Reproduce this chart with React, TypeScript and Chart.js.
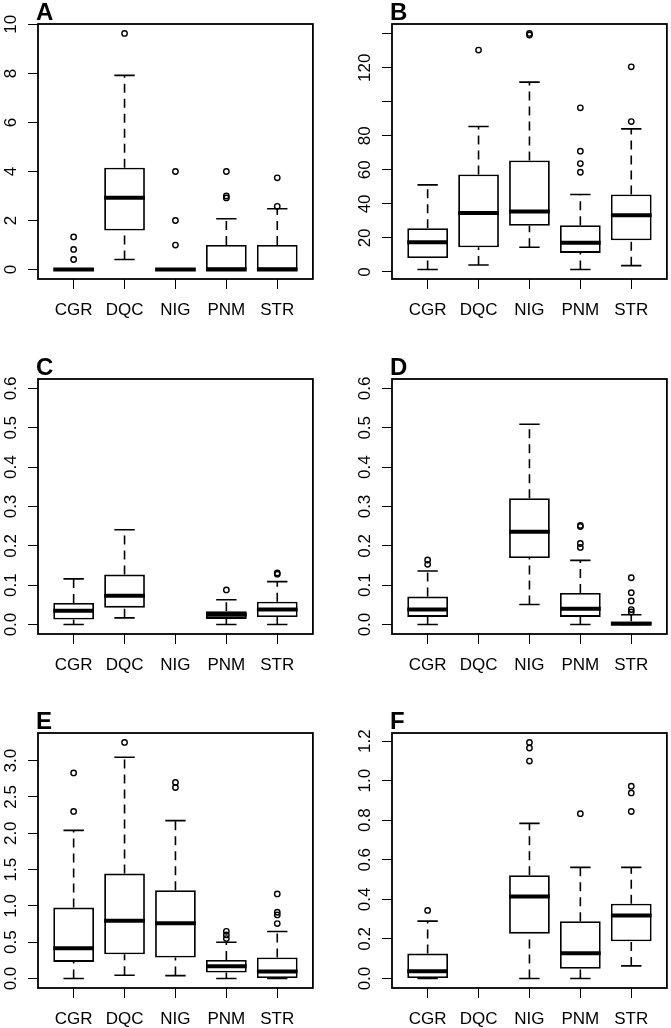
import React, { useEffect, useRef } from 'react';
import { Chart, registerables } from 'chart.js';

Chart.register(...registerables);
Chart.defaults.font.family = "'Liberation Sans', Arial, Helvetica, sans-serif";

const categories = ['CGR', 'DQC', 'NIG', 'PNM', 'STR'];

// Panel A
const aLow = [0, 0.41, 0, 0, 0];
const aQ1 = [0, 1.59, 0, 0, 0];
const aMed = [0, 2.93, 0, 0, 0];
const aQ3 = [0, 4.15, 0, 1.0, 1.0];
const aHigh = [0, 7.92, 0, 2.07, 2.48];
const aOut = [[1.33, 0.82, 0.41], [9.63], [4, 2, 1], [4, 3.0, 2.92], [3.74, 2.58]];
const aTicks = [0, 2, 4, 6, 8, 10];
const aTickLabels = ['0', '2', '4', '6', '8', '10'];

// Panel B
const bLow = [1.4, 4.1, 14.5, 1.4, 3.7];
const bQ1 = [8.2, 14.5, 27.1, 11.2, 18.6];
const bMed = [17.5, 34.7, 35.5, 17.1, 33.3];
const bQ3 = [25.7, 57.3, 65.5, 27.5, 45.5];
const bHigh = [51.2, 85.5, 111.6, 45.5, 84.1];
const bOut = [[], [130.4], [139.3, 140.2], [58.6, 63.7, 71.0, 96.5], [88.4, 120.6]];
const bTicks = [0, 20, 40, 60, 80, 100, 120, 140];
const bTickLabels = ['0', '20', '40', '60', '80', '', '120', ''];

// Panel C
const cLow = [0, 0.017, null, 0, 0];
const cQ1 = [0.013, 0.043, null, 0.0144, 0.019];
const cMed = [0.035, 0.073, null, 0.025, 0.038];
const cQ3 = [0.055, 0.127, null, 0.034, 0.058];
const cHigh = [0.116, 0.241, null, 0.063, 0.109];
const cOut = [[], [], [], [0.088], [0.128, 0.131]];
const cLim = [0, 0.6];
const cTicks = [0, 0.1, 0.2, 0.3, 0.4, 0.5, 0.6];
const cTickLabels = ['0.0', '0.1', '0.2', '0.3', '0.4', '0.5', '0.6'];

// Panel D
const dLow = [0, null, 0.051, 0, 0];
const dQ1 = [0.0195, null, 0.169, 0.0195, 0];
const dMed = [0.038, null, 0.236, 0.04, 0.002];
const dQ3 = [0.071, null, 0.321, 0.08, 0.008];
const dHigh = [0.136, null, 0.509, 0.163, 0.025];
const dOut = [[0.153, 0.164], [], [], [0.196, 0.206, 0.249, 0.252], [0.032, 0.038, 0.06, 0.081, 0.119]];
const dLim = [0, 0.6];
const dTicks = [0, 0.1, 0.2, 0.3, 0.4, 0.5, 0.6];
const dTickLabels = ['0.0', '0.1', '0.2', '0.3', '0.4', '0.5', '0.6'];

// Panel E
const eLow = [0, 0.046, 0.041, 0, 0];
const eQ1 = [0.229, 0.335, 0.289, 0.083, 0];
const eMed = [0.417, 0.794, 0.761, 0.17, 0.096];
const eQ3 = [0.977, 1.445, 1.216, 0.257, 0.289];
const eHigh = [2.04, 3.046, 2.174, 0.5, 0.647];
const eOut = [[2.3, 2.83], [3.25], [2.63, 2.7], [0.55, 0.6, 0.65], [0.757, 0.876, 0.913, 1.165]];
const eTicks = [0, 0.5, 1, 1.5, 2, 2.5, 3];
const eTickLabels = ['0.0', '0.5', '1.0', '1.5', '2.0', '2.5', '3.0'];

// Panel F
const fLow = [0, null, 0, 0, 0.064];
const fQ1 = [0, null, 0.227, 0.049, 0.188];
const fMed = [0.037, null, 0.415, 0.128, 0.319];
const fQ3 = [0.126, null, 0.522, 0.29, 0.378];
const fHigh = [0.29, null, 0.784, 0.562, 0.562];
const fOut = [[0.344], [], [1.099, 1.165, 1.193], [0.833], [0.844, 0.938, 0.972]];
const fTicks = [0, 0.2, 0.4, 0.6, 0.8, 1.0, 1.2];
const fTickLabels = ['0.0', '0.2', '0.4', '0.6', '0.8', '1.0', '1.2'];

type Panel = {
  letter: string;
  low: (number | null)[];
  q1: (number | null)[];
  med: (number | null)[];
  q3: (number | null)[];
  high: (number | null)[];
  out: number[][];
  ticks: number[];
  tickLabels: string[];
  lim?: number[];
  left: number;
  top: number;
};

const panels: Panel[] = [
  { letter: 'A', low: aLow, q1: aQ1, med: aMed, q3: aQ3, high: aHigh, out: aOut, ticks: aTicks, tickLabels: aTickLabels, left: 38, top: 24 },
  { letter: 'B', low: bLow, q1: bQ1, med: bMed, q3: bQ3, high: bHigh, out: bOut, ticks: bTicks, tickLabels: bTickLabels, left: 392, top: 24 },
  { letter: 'C', low: cLow, q1: cQ1, med: cMed, q3: cQ3, high: cHigh, out: cOut, ticks: cTicks, tickLabels: cTickLabels, lim: cLim, left: 38, top: 379 },
  { letter: 'D', low: dLow, q1: dQ1, med: dMed, q3: dQ3, high: dHigh, out: dOut, ticks: dTicks, tickLabels: dTickLabels, lim: dLim, left: 392, top: 379 },
  { letter: 'E', low: eLow, q1: eQ1, med: eMed, q3: eQ3, high: eHigh, out: eOut, ticks: eTicks, tickLabels: eTickLabels, left: 38, top: 733 },
  { letter: 'F', low: fLow, q1: fQ1, med: fMed, q3: fQ3, high: fHigh, out: fOut, ticks: fTicks, tickLabels: fTickLabels, left: 392, top: 733 },
];

const BOX_W = 275;
const BOX_H = 255;
const ML = 38;
const MT = 24;
const MR = 4;
const MB = 50;
const CW = ML + BOX_W + MR;
const CH = MT + BOX_H + MB;
const FONT = "'Liberation Sans', Arial, Helvetica, sans-serif";

function yRange(p: Panel): [number, number] {
  let lo: number;
  let hi: number;
  if (p.lim) {
    lo = p.lim[0];
    hi = p.lim[1];
  } else {
    const vals = [...p.low, ...p.high, ...p.out.flat()].filter((v) => v != null) as number[];
    lo = Math.min(...vals);
    hi = Math.max(...vals);
  }
  const pad = (hi - lo) * 0.04;
  return [lo - pad, hi + pad];
}

function PanelChart({ p }: { p: Panel }) {
  const ref = useRef<HTMLCanvasElement>(null);
  useEffect(() => {
    if (!ref.current) return;
    const present = categories.map((_, i) => i).filter((i) => p.q1[i] != null);
    const boxData = present.map((i) => ({ x: i + 1, y: [p.q1[i], p.q3[i]] }));
    const outData: { x: number; y: number }[] = [];
    p.out.forEach((arr, i) => arr.forEach((v) => outData.push({ x: i + 1, y: v })));
    const [yMin, yMax] = yRange(p);
    const n = categories.length;
    const xPad = n * 0.04;

    const boxPlugin = {
      id: 'boxExtras' + p.letter,
      beforeDatasetsDraw(chart: any) {
        const ctx = chart.ctx;
        const ys = chart.scales.y;
        const meta = chart.getDatasetMeta(0);
        ctx.save();
        ctx.strokeStyle = '#000';
        ctx.lineWidth = 1.6;
        meta.data.forEach((el: any, j: number) => {
          const i = present[j];
          const { x, width } = el.getProps(['x', 'width'], true);
          const yq3 = ys.getPixelForValue(p.q3[i]);
          const yhi = ys.getPixelForValue(p.high[i]);
          const yq1 = ys.getPixelForValue(p.q1[i]);
          const ylo = ys.getPixelForValue(p.low[i]);
          ctx.setLineDash([9, 6]);
          ctx.beginPath();
          ctx.moveTo(x, yq3);
          ctx.lineTo(x, yhi);
          ctx.moveTo(x, ylo);
          ctx.lineTo(x, yq1);
          ctx.stroke();
          ctx.setLineDash([]);
          ctx.beginPath();
          ctx.moveTo(x - width / 4, yhi);
          ctx.lineTo(x + width / 4, yhi);
          ctx.moveTo(x - width / 4, ylo);
          ctx.lineTo(x + width / 4, ylo);
          ctx.stroke();
        });
        ctx.restore();
      },
      afterDatasetDraw(chart: any, args: any) {
        if (args.index !== 0) return;
        const ctx = chart.ctx;
        const ys = chart.scales.y;
        const meta = chart.getDatasetMeta(0);
        ctx.save();
        ctx.strokeStyle = '#000';
        ctx.lineWidth = 4;
        ctx.lineCap = 'butt';
        meta.data.forEach((el: any, j: number) => {
          const i = present[j];
          const { x, width } = el.getProps(['x', 'width'], true);
          const ym = ys.getPixelForValue(p.med[i]);
          ctx.beginPath();
          ctx.moveTo(x - width / 2, ym);
          ctx.lineTo(x + width / 2, ym);
          ctx.stroke();
        });
        ctx.restore();
      },
      afterDraw(chart: any) {
        const ctx = chart.ctx;
        const a = chart.chartArea;
        const ys = chart.scales.y;
        ctx.save();
        ctx.strokeStyle = '#000';
        ctx.lineWidth = 1.8;
        ctx.strokeRect(a.left, a.top, a.right - a.left, a.bottom - a.top);
        ctx.fillStyle = '#000';
        ctx.font = `17px ${FONT}`;
        ctx.textAlign = 'center';
        ctx.textBaseline = 'alphabetic';
        ys.ticks.forEach((t: any) => {
          if (!t.label) return;
          const y = ys.getPixelForValue(t.value);
          ctx.save();
          ctx.translate(a.left - 22, y);
          ctx.rotate(-Math.PI / 2);
          ctx.fillText(t.label, 0, 0);
          ctx.restore();
        });
        ctx.font = `bold 24px ${FONT}`;
        ctx.textAlign = 'left';
        ctx.fillText(p.letter, a.left - 2, a.top - 4);
        ctx.restore();
      },
    };

    const chart = new Chart(ref.current, {
      type: 'bar',
      data: {
        datasets: [
          {
            type: 'bar',
            data: boxData as any,
            backgroundColor: '#ffffff',
            borderColor: '#000000',
            borderWidth: 1.8,
            borderSkipped: false,
            barPercentage: 0.8,
            categoryPercentage: 1,
            order: 1,
          } as any,
          {
            type: 'scatter',
            data: outData,
            pointStyle: 'circle',
            pointRadius: 2.7,
            pointHoverRadius: 2.7,
            borderColor: '#000000',
            borderWidth: 1.4,
            backgroundColor: 'rgba(0,0,0,0)',
            order: 0,
          } as any,
        ],
      },
      options: {
        responsive: false,
        animation: false,
        events: [],
        layout: { padding: { left: 0, top: MT, right: MR, bottom: 0 } },
        plugins: { legend: { display: false }, tooltip: { enabled: false }, title: { display: false } },
        scales: {
          x: {
            type: 'linear',
            min: 1 - 0.5 - xPad,
            max: n + 0.5 + xPad,
            offset: false,
            afterBuildTicks: (s: any) => {
              s.ticks = categories.map((_, i) => ({ value: i + 1 }));
            },
            afterFit: (s: any) => {
              s.height = MB;
            },
            ticks: {
              autoSkip: false,
              maxRotation: 0,
              minRotation: 0,
              color: '#000',
              padding: 13,
              font: { size: 17, lineHeight: 1 },
              callback: (v: any) => categories[Math.round(Number(v)) - 1] ?? '',
            },
            grid: { display: true, offset: false, drawOnChartArea: false, drawTicks: true, tickLength: 10, color: '#000', lineWidth: 1 },
            border: { display: false },
          },
          y: {
            type: 'linear',
            min: yMin,
            max: yMax,
            beginAtZero: false,
            afterBuildTicks: (s: any) => {
              s.ticks = p.ticks.map((v) => ({ value: v }));
            },
            afterFit: (s: any) => {
              s.width = ML;
            },
            ticks: {
              display: false,
              callback: (_v: any, i: number) => p.tickLabels[i] ?? '',
            },
            grid: { display: true, drawOnChartArea: false, drawTicks: true, tickLength: 10, color: '#000', lineWidth: 1 },
            border: { display: false },
          },
        },
      } as any,
      plugins: [boxPlugin],
    });
    return () => chart.destroy();
  }, []);
  return (
    <canvas
      ref={ref}
      width={CW}
      height={CH}
      style={{ position: 'absolute', left: p.left - ML, top: p.top - MT, width: CW, height: CH }}
    />
  );
}

export default function App() {
  return (
    <div style={{ position: 'absolute', left: 0, top: 0, width: 671, height: 1028, overflow: 'hidden', background: '#fff' }}>
      {panels.map((p) => (
        <PanelChart key={p.letter} p={p} />
      ))}
    </div>
  );
}
